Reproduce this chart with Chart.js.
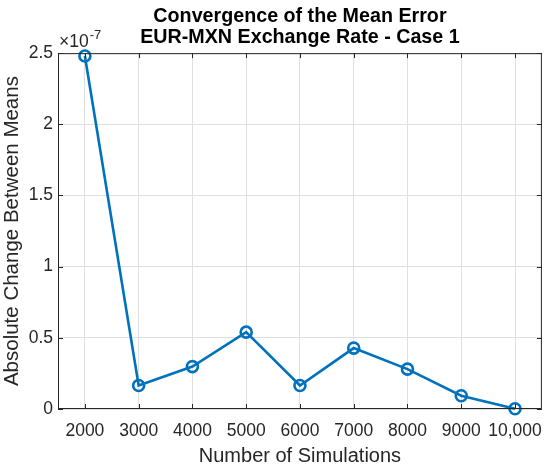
<!DOCTYPE html>
<html><head><meta charset="utf-8">
<script src="https://cdn.jsdelivr.net/npm/chart.js@4.4.0/dist/chart.umd.min.js"></script>
<style>html,body{margin:0;padding:0;background:#fff;}#wrap{width:550px;height:469px;}</style>
</head><body><div id="wrap"><canvas id="c" width="550" height="469"></canvas></div>
<script>
const simulations = [2000, 3000, 4000, 5000, 6000, 7000, 8000, 9000, 10000];
const meanChange = [2.48e-7, 0.165e-7, 0.298e-7, 0.54e-7, 0.165e-7, 0.428e-7, 0.28e-7, 0.093e-7, 0.002e-7];
const xTicks = [2000, 3000, 4000, 5000, 6000, 7000, 8000, 9000, 10000];
const xTickLabels = ['2000','3000','4000','5000','6000','7000','8000','9000','10,000'];
const yTicks = [0, 0.5e-7, 1e-7, 1.5e-7, 2e-7, 2.5e-7];
const yTickLabels = ['0','0.5','1','1.5','2','2.5'];
const exponentBase = '\u00d710';
const exponentPower = '-7';

const FONT = "'Liberation Sans', Arial, Helvetica, sans-serif";
const TXT = '#262626';

const frame = {
  id: 'frame',
  afterDraw(chart) {
    const {ctx, chartArea: a, scales: {x, y}} = chart;
    ctx.save();
    ctx.strokeStyle = TXT; ctx.lineWidth = 1;
    ctx.strokeRect(a.left + 0.5, a.top + 0.5, a.right - a.left - 1, a.bottom - a.top - 1);
    const L = 5;
    ctx.beginPath();
    xTicks.forEach(v => { const p = Math.round(x.getPixelForValue(v)) + 0.5;
      ctx.moveTo(p, a.bottom); ctx.lineTo(p, a.bottom - L);
      ctx.moveTo(p, a.top); ctx.lineTo(p, a.top + L); });
    yTicks.forEach(v => { const p = Math.round(y.getPixelForValue(v)) + 0.5;
      ctx.moveTo(a.left, p); ctx.lineTo(a.left + L, p);
      ctx.moveTo(a.right, p); ctx.lineTo(a.right - L, p); });
    ctx.stroke();
    ctx.fillStyle = TXT;
    ctx.textBaseline = 'alphabetic'; ctx.textAlign = 'left';
    ctx.font = '17.5px ' + FONT;
    const bx = a.left + 1, by = a.top - 6;
    ctx.fillText(exponentBase, bx, by);
    const w = ctx.measureText(exponentBase).width;
    ctx.font = '13px ' + FONT;
    ctx.fillText(exponentPower, bx + w + 1, by - 8);
    ctx.restore();
  }
};

new Chart(document.getElementById('c'), {
  type: 'line',
  data: {
    datasets: [{
      data: simulations.map((s, i) => ({x: s, y: meanChange[i]})),
      borderColor: '#0072BD',
      backgroundColor: 'rgba(0,0,0,0)',
      borderWidth: 2.6,
      pointRadius: 5.5,
      pointHoverRadius: 5.5,
      pointBorderWidth: 2.6,
      pointBackgroundColor: 'rgba(0,0,0,0)',
      pointBorderColor: '#0072BD',
      tension: 0,
      clip: false
    }]
  },
  options: {
    responsive: false,
    animation: false,
    devicePixelRatio: 1,
    layout: {padding: {left: 0, right: 7, top: 0, bottom: 0}},
    plugins: {
      legend: {display: false},
      tooltip: {enabled: false},
      title: {
        display: true,
        fullSize: false,
        text: ['Convergence of the Mean Error', 'EUR-MXN Exchange Rate - Case 1'],
        color: '#000',
        font: {family: FONT, size: 19.7, weight: 'bold', lineHeight: 1.07},
        padding: {top: 6, bottom: 5}
      }
    },
    scales: {
      x: {
        type: 'linear', min: 1500, max: 10500,
        afterBuildTicks: s => { s.ticks = xTicks.map(v => ({value: v})); },
        afterFit: s => { s.height = 60; s.paddingLeft = 0; s.paddingRight = 0; },
        grid: {color: '#dfdfdf', drawTicks: false},
        border: {display: false},
        ticks: {
          padding: 12, color: TXT, maxRotation: 0, autoSkip: false,
          font: {family: FONT, size: 17.5},
          callback: (v) => { const i = xTicks.indexOf(v); return i >= 0 ? xTickLabels[i] : ''; }
        },
        title: {display: true, text: 'Number of Simulations', color: TXT,
          font: {family: FONT, size: 20}, padding: {top: 0, bottom: 1}}
      },
      y: {
        type: 'linear', min: 0, max: 2.5e-7,
        afterBuildTicks: s => { s.ticks = yTicks.map(v => ({value: v})); },
        afterFit: s => { s.width = 58; s.paddingTop = 0; s.paddingBottom = 0; },
        grid: {color: '#dfdfdf', drawTicks: false},
        border: {display: false},
        ticks: {
          padding: 5, color: TXT, autoSkip: false,
          font: {family: FONT, size: 17.5},
          callback: (v) => { const i = yTicks.findIndex(t => Math.abs(t - v) < 1e-12); return i >= 0 ? yTickLabels[i] : ''; }
        },
        title: {display: true, text: 'Absolute Change Between Means', color: TXT,
          font: {family: FONT, size: 20.5}, padding: {top: 0, bottom: 0}}
      }
    }
  },
  plugins: [frame]
});
</script></body></html>
